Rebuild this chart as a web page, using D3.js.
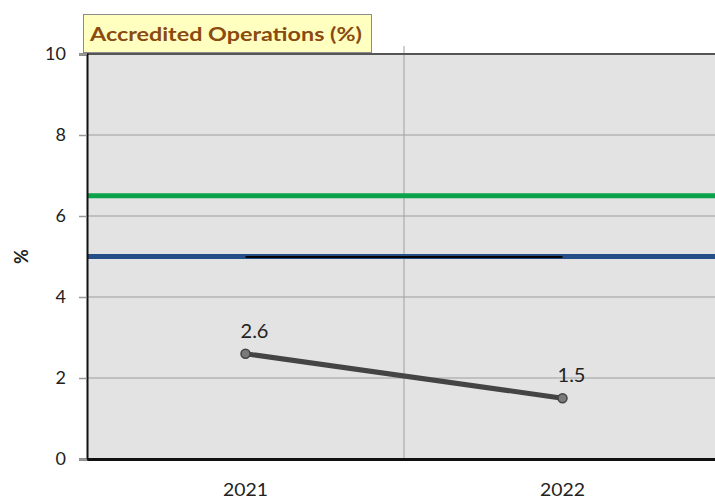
<!DOCTYPE html>
<html>
<head>
<meta charset="utf-8">
<script src="https://cdn.jsdelivr.net/npm/d3@7"></script>
<style>
  html, body { margin: 0; padding: 0; background: #fff; }
  svg { display: block; }
  text { font-family: Lato, "Open Sans", sans-serif; }
</style>
</head>
<body>
<svg id="chart" width="715" height="500"></svg>
<script>
const categories = ["2021", "2022"];
const values = [2.6, 1.5];
const valueLabels = ["2.6", "1.5"];
const greenLevel = [6.5];
const blueLevel = [5.0];
const blackLevel = [5.0];
const yTicks = [0, 2, 4, 6, 8, 10];
const titleText = "Accredited Operations (%)";
const yAxisTitle = "%";

const svg = d3.select("#chart");
const m = { left: 87, right: -6, top: 54, bottom: 41 };
const W = 715, H = 500;

const x = d3.scaleBand().domain(categories).range([m.left, W - m.right]).paddingInner(0).paddingOuter(0);
const y = d3.scaleLinear().domain([0, 10]).range([H - m.bottom, m.top]);
const xc = d => x(d) + x.bandwidth() / 2;

// plot background
svg.append("rect")
  .attr("x", m.left).attr("y", m.top)
  .attr("width", W - m.right - m.left).attr("height", y(0) - m.top)
  .attr("fill", "#e3e3e3");

// horizontal gridlines
svg.append("g").selectAll("line").data(yTicks.filter(t => t > 0 && t < 10)).join("line")
  .attr("x1", m.left).attr("x2", W - m.right)
  .attr("y1", d => y(d)).attr("y2", d => y(d))
  .attr("stroke", "#b4b4b4").attr("stroke-width", 1.5);

// vertical gridlines between categories
svg.append("g").selectAll("line").data(categories.slice(1)).join("line")
  .attr("x1", d => x(d)).attr("x2", d => x(d))
  .attr("y1", m.top - 8).attr("y2", y(0))
  .attr("stroke", "#a0a0a0").attr("stroke-width", 1);

// reference lines
svg.append("line")
  .attr("x1", m.left).attr("x2", W - m.right)
  .attr("y1", y(greenLevel[0])).attr("y2", y(greenLevel[0]))
  .attr("stroke", "#0ba24c").attr("stroke-width", 5);
svg.append("line")
  .attr("x1", m.left).attr("x2", W - m.right)
  .attr("y1", y(blueLevel[0])).attr("y2", y(blueLevel[0]))
  .attr("stroke", "#244f87").attr("stroke-width", 5);
svg.append("line")
  .attr("x1", xc(categories[0])).attr("x2", xc(categories[1]))
  .attr("y1", y(blackLevel[0]) + 0.5).attr("y2", y(blackLevel[0]) + 0.5)
  .attr("stroke", "#050505").attr("stroke-width", 2);

// top border
svg.append("line")
  .attr("x1", m.left).attr("x2", W - m.right)
  .attr("y1", m.top).attr("y2", m.top)
  .attr("stroke", "#555").attr("stroke-width", 2);

// y axis
const yAxis = d3.axisLeft(y).tickValues(yTicks).tickFormat(d3.format("d")).tickSize(8).tickPadding(13);
const gy = svg.append("g").attr("transform", `translate(${m.left},0)`).call(yAxis);
gy.select(".domain").attr("stroke", "#111").attr("stroke-width", 2);
gy.selectAll(".tick line").attr("stroke", "#999").attr("stroke-width", 1.5);
gy.selectAll(".tick text").attr("font-size", 18).attr("fill", "#222").attr("font-family", "Lato, sans-serif");

// x axis
const xAxis = d3.axisBottom(x).tickSize(0).tickPadding(24);
const gx = svg.append("g").attr("transform", `translate(0,${y(0)})`).call(xAxis);
gx.select(".domain").attr("stroke", "#111").attr("stroke-width", 3);
gx.selectAll(".tick text").attr("font-size", 18).attr("fill", "#222").attr("font-family", "Lato, sans-serif")
  .attr("textLength", 45).attr("lengthAdjust", "spacingAndGlyphs");

// y axis title
svg.append("text")
  .attr("transform", `translate(28,${(m.top + y(0)) / 2}) rotate(-90)`)
  .attr("text-anchor", "middle")
  .attr("font-size", 18).attr("font-weight", "bold").attr("fill", "#222")
  .text(yAxisTitle);

// data line
const pts = categories.map((c, i) => [xc(c), y(values[i])]);
svg.append("path")
  .attr("d", d3.line()(pts))
  .attr("fill", "none").attr("stroke", "#444").attr("stroke-width", 5).attr("stroke-linecap", "round");
svg.append("g").selectAll("circle").data(categories).join("circle")
  .attr("cx", d => xc(d)).attr("cy", (d, i) => y(values[i]))
  .attr("r", 4.5).attr("fill", "#7a7a7a").attr("stroke", "#444").attr("stroke-width", 1.5);
svg.append("g").selectAll("text").data(categories).join("text")
  .attr("x", d => xc(d) + 9).attr("y", (d, i) => y(values[i]) - 16)
  .attr("text-anchor", "middle")
  .attr("font-size", 20).attr("fill", "#222")
  .text((d, i) => valueLabels[i]);

// title box
const tb = svg.append("g");
tb.append("rect")
  .attr("x", 83.5).attr("y", 14.5).attr("width", 288).attr("height", 38)
  .attr("fill", "#ffffc0").attr("stroke", "#8c8c8c").attr("stroke-width", 1);
tb.append("text")
  .attr("x", 90).attr("y", 41)
  .attr("font-size", 19).attr("font-weight", "bold").attr("fill", "#8a4a10")
  .attr("textLength", 272).attr("lengthAdjust", "spacingAndGlyphs")
  .text(titleText);
</script>
</body>
</html>
